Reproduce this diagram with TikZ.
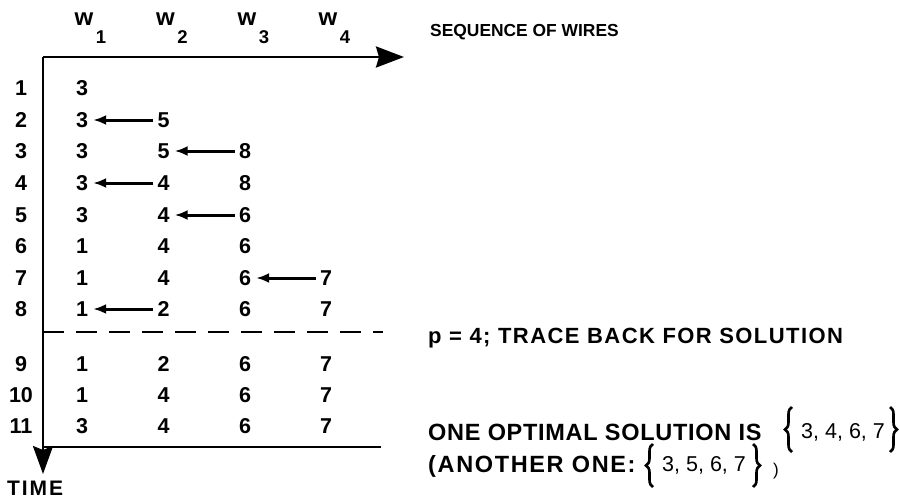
\documentclass[tikz,border=0pt]{standalone}
\usepackage{fontspec}
\setmainfont{Liberation Sans}
\usetikzlibrary{arrows.meta,decorations.pathreplacing}
\begin{document}
\begin{tikzpicture}[x=1pt,y=-1pt,
  cell/.style={inner sep=3pt,font=\fontsize{21.5}{24}\selectfont\bfseries},
  rowlab/.style={inner sep=0pt,font=\fontsize{21.5}{24}\selectfont\bfseries},
  wname/.style={inner sep=0pt,font=\fontsize{24}{27}\selectfont\bfseries},
  wsub/.style={inner sep=0pt,font=\fontsize{18.5}{21}\selectfont\bfseries},
  note/.style={inner sep=0pt,anchor=base west},
  setnote/.style={inner sep=0pt,anchor=base west,font=\fontsize{21.5}{25}\selectfont},
  curly/.style={decorate,decoration={brace,amplitude=7pt,aspect=0.5},line width=2.6pt},
  axis/.style={line width=2.6pt},
  back/.style={line width=3pt,-{Latex[length=13pt,width=10pt]},shorten <=1pt,shorten >=2pt}]
\useasboundingbox (0,0) rectangle (900,498);

% axes
\coordinate (O) at (43,57);
\coordinate (xend) at (404,57);
\coordinate (yend) at (43,474);
\draw[axis,-{Stealth[inset=3pt,length=28pt,width=21pt]}] (O) -- (xend);
\draw[axis,-{Stealth[inset=4pt,length=28pt,width=20pt]}] (O) -- (yend);
\coordinate (dashL) at (43,332);
\coordinate (dashR) at (383,332);
\draw[line width=2.6pt,dash pattern=on 21pt off 12pt] (dashL) -- (dashR);
\coordinate (botL) at (43,447);
\coordinate (botR) at (381,447);
\draw[axis] (botL) -- (botR);

% column headers
\foreach \i/\x in {1/82,2/163.5,3/245,4/326}{
  \node[wname] (w\i) at (\x+2,19) {w};
  \node[wsub] (s\i) at (\x+19,37) {\i};
}

% rows: label and entries
\foreach \r/\y/\a/\b/\c/\d in {
  1/88/3///, 2/120/3/5//, 3/151/3/5/8/, 4/183/3/4/8/,
  5/215/3/4/6/, 6/246/1/4/6/, 7/278/1/4/6/7, 8/309/1/2/6/7,
  9/364/1/2/6/7, 10/395/1/4/6/7, 11/426/3/4/6/7}{
  \node[rowlab] (r\r) at (21,\y) {\r};
  \node[cell] (c\r-1) at (82,\y) {\a};
  \node[cell] (c\r-2) at (163.5,\y) {\b};
  \node[cell] (c\r-3) at (245,\y) {\c};
  \node[cell] (c\r-4) at (326,\y) {\d};
}

% predecessor links
\draw[back] (c2-2.west) -- (c2-1.east);
\draw[back] (c3-3.west) -- (c3-2.east);
\draw[back] (c4-2.west) -- (c4-1.east);
\draw[back] (c5-3.west) -- (c5-2.east);
\draw[back] (c7-4.west) -- (c7-3.east);
\draw[back] (c8-2.west) -- (c8-1.east);

% labels
\node[note,font=\fontsize{17.4}{20}\selectfont\bfseries] (seq) at (430,36) {SEQUENCE OF WIRES};
\node[note,font=\fontsize{22}{26}\selectfont\bfseries\addfontfeature{LetterSpace=6.5}] (trace) at (428,343) {p = 4; TRACE BACK FOR SOLUTION};
\node[note,font=\fontsize{23.5}{27}\selectfont\bfseries\addfontfeature{LetterSpace=3}] (opt) at (428,440) {ONE OPTIMAL SOLUTION IS};
\node[note,font=\fontsize{23.5}{27}\selectfont\bfseries\addfontfeature{LetterSpace=7}] (other) at (428,472) {(ANOTHER ONE:};

% the two solution sets, each between a pair of curly braces
\node[setnote] (set1) at (801,438) {3, 4, 6, 7};
\coordinate (b1a) at (792,452);
\coordinate (b1b) at (792,407);
\coordinate (b1c) at (890,407);
\coordinate (b1d) at (890,452);
\draw[curly] (b1a) -- (b1b);
\draw[curly] (b1c) -- (b1d);
\node[setnote] (set2) at (662,471) {3, 5, 6, 7};
\coordinate (b2a) at (653,487);
\coordinate (b2b) at (653,444);
\coordinate (b2c) at (753,444);
\coordinate (b2d) at (753,487);
\draw[curly] (b2a) -- (b2b);
\draw[curly] (b2c) -- (b2d);
\node[inner sep=0pt,anchor=base,font=\fontsize{17}{19}\selectfont] (close) at (776,475) {)};

\node[note,font=\fontsize{21}{24}\selectfont\bfseries\addfontfeature{LetterSpace=9}] (time) at (7,495) {TIME};
\end{tikzpicture}
\end{document}
